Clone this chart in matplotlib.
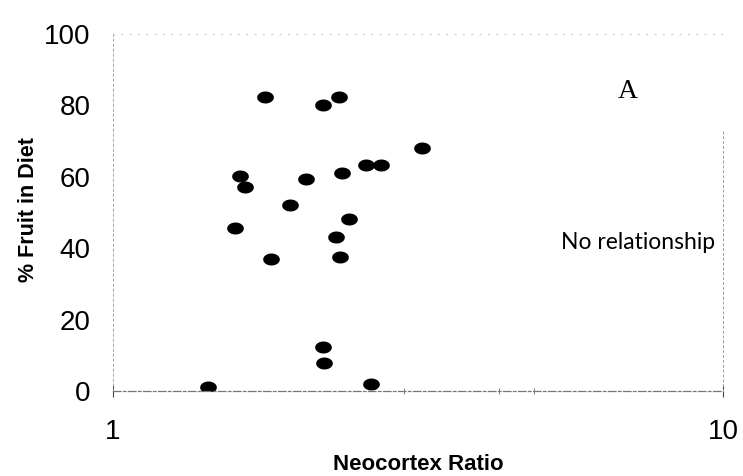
import numpy as np
import matplotlib.pyplot as plt
from matplotlib.path import Path
from matplotlib.ticker import FixedLocator, NullFormatter

# neocortex ratio vs. percent fruit in diet
neocortex_ratio = [1.775, 2.212, 2.35, 3.214, 2.597, 2.754, 2.374, 1.615, 1.648, 2.074,
                   1.953, 2.437, 1.587, 2.323, 1.816, 2.359, 2.207, 2.215, 1.43, 2.649]
fruit_pct = [82.3, 80.2, 82.3, 68.2, 63.2, 63.2, 61.2, 60.2, 57.1, 59.3,
             52.1, 48.2, 45.6, 43.1, 37.0, 37.5, 12.4, 7.9, 1.1, 2.0]

x_ticks = [1, 10]
x_minor = [3, 4.3, 4.9]
y_ticks = [0, 20, 40, 60, 80, 100]

# slightly flattened dot
t = np.linspace(0, 2 * np.pi, 60)
ellipse = Path(np.column_stack([np.cos(t), 0.72 * np.sin(t)]), closed=True)

fig = plt.figure(figsize=(7.43, 4.76), dpi=100)
ax = fig.add_axes([113 / 743, (476 - 391) / 476, 610 / 743, 357 / 476])

ax.plot(neocortex_ratio, fruit_pct, linestyle="none", marker=ellipse,
        markersize=12, color="black", markeredgewidth=0)

ax.set_xscale("log")
ax.set_xlim(1, 10)
ax.set_ylim(0, 100)
ax.xaxis.set_major_locator(FixedLocator(x_ticks))
ax.xaxis.set_minor_locator(FixedLocator(x_minor))
ax.xaxis.set_minor_formatter(NullFormatter())
ax.set_xticklabels(["1", "10"])
ax.set_yticks(y_ticks)

for lbl in ax.get_xticklabels() + ax.get_yticklabels():
    lbl.set_fontfamily("Liberation Sans")
    lbl.set_fontsize(20)

ax.tick_params(axis="x", which="major", direction="inout", length=8, width=0.8,
               color="#444444", pad=16)
ax.tick_params(axis="x", which="minor", direction="inout", length=5, width=0.6,
               color="#666666")
ax.tick_params(axis="y", length=0, pad=16)

# frame is a faint broken line
ax.spines["bottom"].set_color("#777777")
ax.spines["bottom"].set_linestyle((0, (6, 2, 2, 2)))
ax.spines["bottom"].set_linewidth(0.9)
ax.spines["left"].set_color("#9a9a9a")
ax.spines["left"].set_linestyle((0, (3, 3)))
ax.spines["left"].set_linewidth(0.6)
ax.spines["top"].set_color("#b0b0b0")
ax.spines["top"].set_linestyle((0, (1, 9)))
ax.spines["top"].set_linewidth(0.6)
# right edge only shows over the lower part of the frame
ax.spines["right"].set_bounds(0, 73)
ax.spines["right"].set_color("#999999")
ax.spines["right"].set_linestyle((0, (2, 3)))
ax.spines["right"].set_linewidth(0.7)

ax.set_xlabel("Neocortex Ratio", fontfamily="Liberation Sans", fontweight="bold",
              fontsize=16, labelpad=7)
ax.set_ylabel("% Fruit in Diet", fontfamily="Liberation Sans", fontweight="bold",
              fontsize=15.5)
ax.yaxis.set_label_coords(-(113 - 39) / 610, (391 - 210) / 357)

fig.text(628 / 743, 1 - 92 / 476, "A", fontfamily="Liberation Serif", fontsize=20,
         ha="center", va="center")
fig.text(715 / 743, 1 - 243 / 476, "No relationship", fontfamily="Lato",
         fontsize=16.5, ha="right", va="center")

fig.savefig("out.png", dpi=100)
